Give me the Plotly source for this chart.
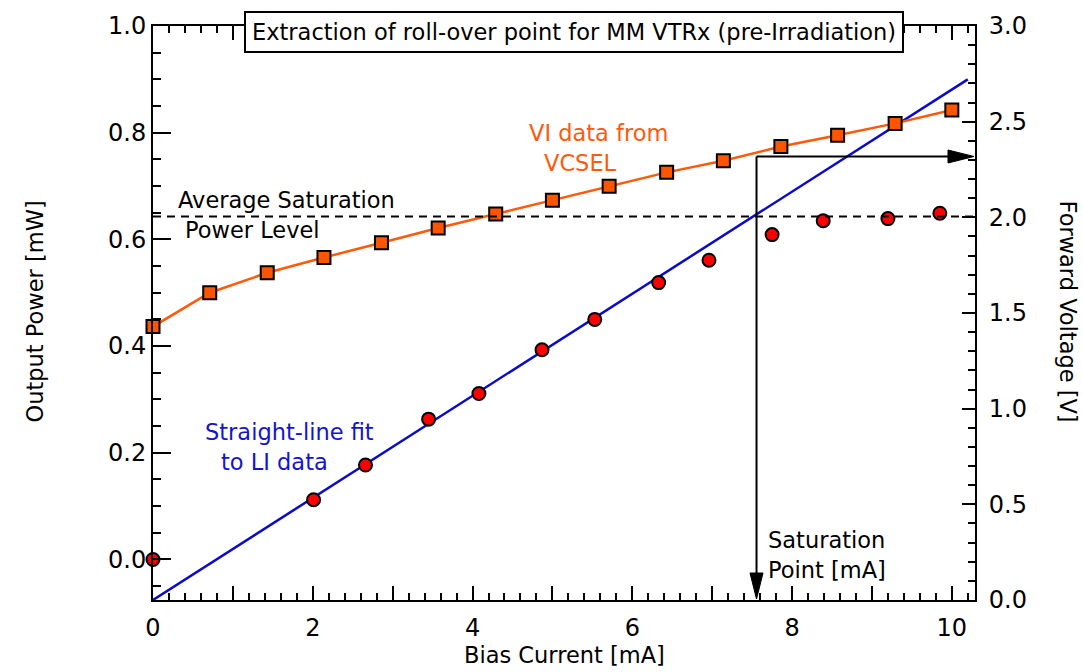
import plotly.graph_objects as go

# ---------------- data ----------------
li_current = [0.0, 2.01, 2.66, 3.45, 4.08, 4.87, 5.53, 6.33, 6.96, 7.75, 8.39, 9.20, 9.85]
li_power = [0.0, 0.112, 0.177, 0.263, 0.311, 0.393, 0.450, 0.519, 0.561, 0.609, 0.635, 0.639, 0.649]

vi_current = [0.0, 0.71, 1.43, 2.14, 2.86, 3.57, 4.29, 5.0, 5.71, 6.43, 7.14, 7.86, 8.57, 9.29, 10.0]
vi_voltage = [1.429, 1.606, 1.710, 1.790, 1.867, 1.944, 2.017, 2.089, 2.162, 2.235, 2.296, 2.370, 2.429, 2.491, 2.561]

fit_current = [0.0, 10.2]
fit_power = [-0.076, 0.90]

avg_sat_power = 0.643
sat_current = 7.555
sat_voltage = 2.318

x_range = [0, 10.29]
y_range = [-0.076, 1.0]
y2_range = [0, 3.0]

x_tickvals = list(range(0, 11))
x_ticktext = [str(v) if v % 2 == 0 else "" for v in x_tickvals]
y_tickvals = [0.0, 0.2, 0.4, 0.6, 0.8, 1.0]
y_ticktext = ["0.0", "0.2", "0.4", "0.6", "0.8", "1.0"]
y2_tickvals = [0.0, 0.5, 1.0, 1.5, 2.0, 2.5, 3.0]
y2_ticktext = ["0.0", "0.5", "1.0", "1.5", "2.0", "2.5", "3.0"]

FONT = "DejaVu Sans"
W, H = 1083, 672
L, R, T, B = 153, 975, 23, 600

ORANGE = "#FF5A0A"
BLUE = "#1414CC"

def px(x):
    return (x - L) / (R - L)

def py(y):
    return (B - y) / (B - T)

fig = go.Figure()

fig.add_trace(go.Scatter(
    x=fit_current, y=fit_power, mode="lines",
    line=dict(color="#0A0ACC", width=2.5), showlegend=False))

fig.add_trace(go.Scatter(
    x=vi_current, y=vi_voltage, yaxis="y2", mode="lines+markers",
    line=dict(color=ORANGE, width=2.5),
    marker=dict(symbol="square", size=13, color="#FF5500",
                line=dict(color="black", width=2)),
    cliponaxis=False, showlegend=False))

fig.add_trace(go.Scatter(
    x=li_current, y=li_power, mode="markers",
    marker=dict(symbol="circle", size=13, color="#FF0000",
                line=dict(color="black", width=2)),
    cliponaxis=False, showlegend=False))

shapes = []
# dashed average saturation level
shapes.append(dict(type="line", xref="x", yref="y", x0=x_range[0], x1=x_range[1],
                   y0=avg_sat_power, y1=avg_sat_power,
                   line=dict(color="black", width=2, dash="8px,6px")))
# vertical arrow shaft
shapes.append(dict(type="line", xref="x", yref="y2", x0=sat_current, x1=sat_current,
                   y0=sat_voltage, y1=y2_range[0] + 0.08,
                   line=dict(color="black", width=2)))
# horizontal arrow shaft
shapes.append(dict(type="line", xref="x", yref="y2", x0=sat_current, x1=x_range[1] - 0.2,
                   y0=sat_voltage, y1=sat_voltage,
                   line=dict(color="black", width=2)))
# arrow heads (pixel-sized)
shapes.append(dict(type="path", xref="x", yref="y2", xsizemode="pixel", ysizemode="pixel",
                   xanchor=sat_current, yanchor=y2_range[0],
                   path="M-6.5,27 L6.5,27 L0,1 Z", fillcolor="black",
                   line=dict(color="black", width=1)))
shapes.append(dict(type="path", xref="x", yref="y2", xsizemode="pixel", ysizemode="pixel",
                   xanchor=x_range[1], yanchor=sat_voltage,
                   path="M-27,-6.5 L-27,6.5 L-1,0 Z", fillcolor="black",
                   line=dict(color="black", width=1)))

annotations = []

def txt(text, x, y, color="black", size=22.5, xanchor="left", yanchor="middle", **kw):
    annotations.append(dict(text=text, x=px(x), y=py(y), xref="paper", yref="paper",
                            xanchor=xanchor, yanchor=yanchor, showarrow=False,
                            font=dict(family=FONT, size=size, color=color), **kw))

# title box
annotations.append(dict(text="Extraction of roll-over point for MM VTRx (pre-Irradiation)",
                        x=px(573.5), y=py(29), xref="paper", yref="paper",
                        xanchor="center", yanchor="middle", showarrow=False,
                        font=dict(family=FONT, size=22.5, color="black"),
                        bgcolor="white", bordercolor="black", borderwidth=2, borderpad=6))

txt("VI data from", 527, 131, color=ORANGE)
txt("VCSEL", 542, 161, color=ORANGE)
txt("Average Saturation", 176, 198)
txt("Power Level", 183, 228)
txt("Straight-line fit", 203, 431, color=BLUE)
txt("to LI data", 219, 461, color=BLUE)
txt("Saturation", 766, 540)
txt("Point [mA]", 766, 570)

# axis titles
txt("Bias Current [mA]", 564, 655, size=22.5, xanchor="center")
txt("Output Power [mW]", 35, 310, size=22.5, xanchor="center", textangle=-90)
txt("Forward Voltage [V]", 1068, 310, size=22.5, xanchor="center", textangle=90)

tickfont = dict(family=FONT, size=24, color="black")

fig.update_layout(
    width=W, height=H,
    margin=dict(l=L, r=W - R, t=T, b=H - B),
    paper_bgcolor="white", plot_bgcolor="white",
    showlegend=False,
    shapes=shapes, annotations=annotations,
    xaxis=dict(range=x_range, showgrid=False, zeroline=False,
               showline=True, linecolor="black", linewidth=2, mirror="ticks",
               ticks="inside", ticklen=14, tickwidth=2, tickcolor="black",
               tickmode="array", tickvals=x_tickvals, ticktext=x_ticktext,
               tickfont=tickfont, ticklabelstandoff=5,
               minor=dict(dtick=0.2, ticks="inside", ticklen=7, tickwidth=2,
                          tickcolor="black", showgrid=False)),
    yaxis=dict(range=y_range, showgrid=False, zeroline=False,
               showline=True, linecolor="black", linewidth=2,
               ticks="inside", ticklen=18, tickwidth=2, tickcolor="black",
               tickmode="array", tickvals=y_tickvals, ticktext=y_ticktext,
               tickfont=tickfont, ticklabelstandoff=0,
               minor=dict(dtick=0.05, tick0=0, ticks="inside", ticklen=8, tickwidth=2,
                          tickcolor="black", showgrid=False)),
    yaxis2=dict(range=y2_range, overlaying="y", side="right", showgrid=False,
                zeroline=False, showline=True, linecolor="black", linewidth=2,
                ticks="inside", ticklen=13, tickwidth=2, tickcolor="black",
                tickmode="array", tickvals=y2_tickvals, ticktext=y2_ticktext,
                tickfont=tickfont, ticklabelstandoff=7,
                minor=dict(dtick=0.1, tick0=0, ticks="inside", ticklen=7, tickwidth=2,
                           tickcolor="black", showgrid=False)),
)

fig.write_html("out.html")
